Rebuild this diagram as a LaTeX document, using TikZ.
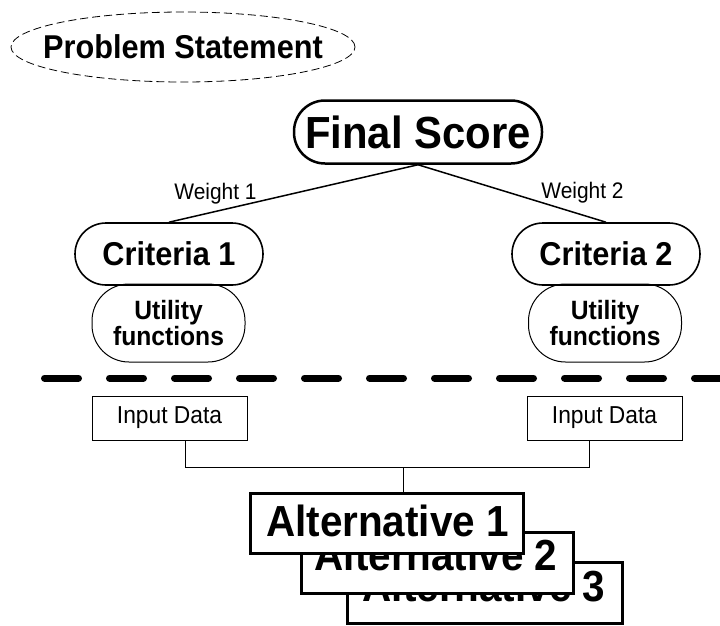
\documentclass[tikz,border=0pt]{standalone}
\usepackage{fontspec}
\setmainfont{Liberation Sans}[FakeStretch=0.93]
\tikzset{
  fsz/.style={font=\bfseries\fontsize{#1}{#1}\selectfont},
  pill/.style={draw, inner sep=0pt, align=center},
  inbox/.style={draw, line width=0.9pt, inner sep=0pt, minimum width=155pt, minimum height=44pt, font=\fontsize{24.5}{24.5}\selectfont},
  altbox/.style={draw, fill=white, line width=3pt, inner sep=0pt, minimum height=60pt},
  alttext/.style={anchor=base, inner sep=0pt, fsz=43.5},
  wlabel/.style={anchor=base, inner sep=0pt, font=\fontsize{22.5}{22.5}\selectfont},
  thinline/.style={line width=0.9pt},
}
\begin{document}
\begin{tikzpicture}[x=1pt,y=-1pt]
\useasboundingbox (0,0) rectangle (720,625);

% problem statement
\node[inner sep=0pt, fsz=33] (ps) at (183,47) {Problem Statement};
\draw[dashed, dash pattern=on 8pt off 4pt, line width=0.8pt] (ps.center) ellipse [x radius=172pt, y radius=35pt];

% final score
\node[pill, line width=2.5pt, rounded corners=31pt, minimum width=248pt, minimum height=63pt, fsz=45] (fs) at (418,132) {Final Score};

% criteria
\node[pill, line width=1.6pt, rounded corners=31pt, minimum width=188pt, minimum height=62pt, fsz=33] (c1) at (169,254) {Criteria 1};
\node[pill, line width=1.6pt, rounded corners=31pt, minimum width=188pt, minimum height=62pt, fsz=33] (c2) at (606,254) {Criteria 2};

% utility
\node[pill, line width=1pt, rounded corners=37pt, minimum width=153pt, minimum height=78pt, font=\bfseries\fontsize{26.5}{24.5}\selectfont] (u1) at (168.5,323) {Utility\\functions};
\node[pill, line width=1pt, rounded corners=37pt, minimum width=153pt, minimum height=78pt, font=\bfseries\fontsize{26.5}{24.5}\selectfont] (u2) at (605,323) {Utility\\functions};

% weights
\draw[line width=1.5pt] (fs.south) -- (c1.north);
\draw[line width=1.5pt] (fs.south) -- (c2.north);
\node[wlabel] (w1) at (215.5,199) {Weight 1};
\node[wlabel] (w2) at (582.5,198) {Weight 2};

% separator
\coordinate (sepL) at (44.5,378);
\coordinate (sepR) at (740,378);
\begin{scope}
\clip (0,0) rectangle (720,625);
\draw[line width=7pt, line cap=round, dash pattern=on 34pt off 31pt] (sepL) -- (sepR);
\end{scope}

% input data
\node[inbox] (in1) at (169.5,418) {Input Data};
\node[inbox] (in2) at (604.5,418) {Input Data};

% alternatives
\node[altbox, minimum width=275pt, minimum height=61pt] (a3) at (484.5,592.5) {};
\node[alttext] (a3t) at (484,601) {Alternative 3};
\node[altbox, minimum width=272pt, minimum height=61pt] (a2) at (437,562.5) {};
\node[alttext] (a2t) at (436,570) {Alternative 2};
\node[altbox, minimum width=273pt] (a1) at (386.5,523) {};
\node[alttext] (a1t) at (387.5,536) {Alternative 1};

% connectors
\coordinate (j) at (403,467);
\draw[thinline] ([xshift=15.5pt]in1.south) |- (j) -| ([xshift=-15.5pt]in2.south);
\draw[thinline] (j) -- (j |- a1.north);
\end{tikzpicture}
\end{document}
